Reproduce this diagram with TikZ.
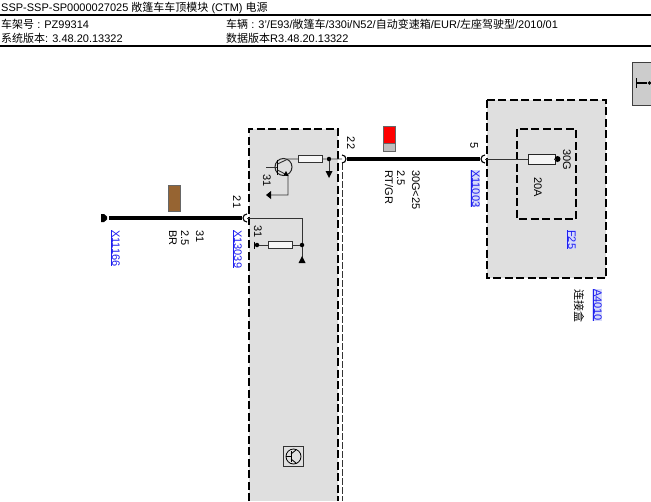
\documentclass[tikz,border=0pt]{standalone}
\usepackage{fontspec}
\setmainfont{Liberation Sans}
\newfontfamily\cjk{Noto Sans CJK SC}
\usetikzlibrary{arrows.meta}
\definecolor{boxgray}{RGB}{223,223,223}
\definecolor{linkblue}{RGB}{30,30,240}
\definecolor{linkbg}{RGB}{214,218,250}
\definecolor{wirebrown}{RGB}{150,100,50}

\begin{document}
\begin{tikzpicture}[x=1pt, y=-1pt, >=Stealth,
    every node/.style={font=\fontsize{11}{13}\selectfont, inner sep=0pt, text=black},
    header/.style={anchor=west},
    vlabel/.style={rotate=-90, anchor=west},
    vlink/.style={rotate=-90, anchor=west, text=linkblue},
    vlinkbg/.style={vlink, fill=linkbg},
    modulebox/.style={draw=black, line width=2pt, fill=boxgray, dash pattern=on 8pt off 3.5pt},
    innerbox/.style={draw=black, line width=2pt, dash pattern=on 8pt off 3.5pt},
    wire/.style={line width=3.8pt, black},
    thinwire/.style={line width=0.9pt, black!80},
    pinarc/.style={line width=1.1pt, black},
    junction/.style={circle, fill=black, minimum size=4.5pt},
    resistor/.style={draw=black!80, fill=boxgray!25, line width=0.9pt, minimum width=24pt, minimum height=7pt},
    gnd/.style={fill=black}]

  \useasboundingbox (0,0) rectangle (651,501);

  % Header
  \node[header] (title) at (1,7.5) {SSP-SSP-SP0000027025 {\cjk 敞篷车车顶模块} (CTM) {\cjk 电源}};
  \node[header] (chassis) at (1,24) {{\cjk 车架号} : PZ99314};
  \node[header] (vehicle) at (226,24) {{\cjk 车辆} : 3'/E93/{\cjk 敞篷车}/330i/N52/{\cjk 自动变速箱}/EUR/{\cjk 左座驾驶型}/2010/01};
  \node[header] (sysver) at (1,38) {{\cjk 系统版本}: 3.48.20.13322};
  \node[header] (dataver) at (226,38) {{\cjk 数据版本}R3.48.20.13322};
  \draw[line width=2.4pt] (0,14.7) -- (651,14.7);
  \draw[line width=2.4pt] (0,45.7) -- (651,45.7);

  % Control module
  \fill[boxgray] (249,129) rectangle (338,501);
  \draw[modulebox, fill=none] (249,501) -- (249,129) -- (338,129) -- (338,501);
  \draw[thinwire, dash pattern=on 7pt off 2pt] (342,163) -- (342,501);

  % Junction box
  \draw[modulebox] (487,100) rectangle (606,278);
  \draw[innerbox] (517,129) rectangle (576,219);

  % Side tab
  \draw[draw=black!75, line width=1pt, fill=black!20] (651,62) -- (632.5,62) -- (632.5,105.5) -- (651,105.5);
  \draw[line width=1pt] (636,78) -- (636,88);
  \draw[line width=2.6pt] (636,83) -- (647,83);
  \fill (649.5,83) circle (1.8);

  % Wires
  \coordinate (pinA) at (242,218);
  \coordinate (pinB) at (347,159);
  \coordinate (pinC) at (480,159);
  \coordinate (tapA) at (247,218);
  \coordinate (tapB) at (342,159);
  \coordinate (tapC) at (485,159);
  \coordinate (endA) at (109,218);
  \draw[wire] (endA) -- (pinA);
  \draw[wire] (pinB) -- (pinC);
  \draw[pinarc] (247,222) arc[start angle=90, end angle=270, radius=4];
  \draw[pinarc] (342,163) arc[start angle=90, end angle=-90, radius=4];
  \draw[pinarc] (485,163) arc[start angle=90, end angle=270, radius=4];
  \fill (101,214) -- (104,214) -- (107,216.5) -- (107,219.5) -- (104,222) -- (101,222) -- cycle;

  % Wire colours
  \node[draw=black!60, fill=wirebrown, line width=0.9pt, minimum width=12pt, minimum height=26pt] (brown) at (174,198) {};
  \node[draw=black!60, fill=red, line width=0.9pt, minimum width=12pt, minimum height=17pt] (red) at (389,134.5) {};
  \node[draw=black!60, fill=black!25, line width=0.9pt, minimum width=12pt, minimum height=8pt] (grey) at (389,147) {};

  % Fuse
  \node[draw=black!85, fill=boxgray!30, line width=1pt, minimum width=27pt, minimum height=10pt] (fuse) at (541.5,159) {};
  \node[circle, fill=black, minimum size=6pt] (fusedot) at (557.5,159) {};
  \draw[thinwire] (tapC) -- (fuse);
  \draw[thinwire] (fuse) -- (fusedot);

  % Lower circuit
  \node[resistor] (resA) at (280,245) {};
  \node[junction] (dotA) at (302,245) {};
  \node[junction] (dotB) at (257,245) {};
  \coordinate (cornerA) at (302,218);
  \coordinate (gndA) at (302,257);
  \draw[thinwire] (tapA) -- (cornerA) -- (dotA) -- (gndA);
  \draw[thinwire] (dotB) -- (resA) -- (dotA);
  \draw[line width=1.2pt] (254.5,241.5) -- (254.5,248.5);
  \fill[gnd] (302,256) -- (305.5,263) -- (298.5,263) -- cycle;

  % Transistor
  \node[circle, draw=black!85, line width=1pt, minimum size=17pt] (tr) at (283.5,167) {};
  \node[resistor] (resB) at (310.5,159) {};
  \node[junction] (dotC) at (329,159) {};
  \coordinate (base) at (266,167);
  \coordinate (col) at (288,159);
  \coordinate (emit) at (288,195);
  \coordinate (gndB) at (271,195);
  \draw[thinwire] (base) -- (277.5,167);
  \draw[line width=1.3pt] (277.5,159.5) -- (277.5,174.5);
  \draw[thinwire] (277.5,164) -- (col) -- (resB) -- (dotC) -- (tapB);
  \draw[thinwire] (277.5,170) -- (288,175.5) -- (emit) -- (gndB);
  \fill (288.5,176) -- (283.5,175.5) -- (286,171) -- cycle;
  \fill[gnd] (266,195) -- (271,191) -- (271,199) -- cycle;
  \draw[thinwire] (dotC) -- (329,172);
  \fill[gnd] (325.5,171) -- (332.5,171) -- (329,178) -- cycle;

  % Transistor symbol at the bottom
  \node[draw=black!80, fill=black!12, line width=1pt, minimum size=20pt] (icon) at (293.5,456.5) {};
  \node[circle, draw=black, line width=0.8pt, minimum size=15pt] (iconc) at (293.5,456.5) {};
  \draw[line width=0.8pt] (iconc.west) -- (291,456.5);
  \draw[line width=0.8pt] (291,451) -- (291,462);
  \draw[line width=0.8pt] (291,454) -- (296,450);
  \draw[line width=0.8pt] (291,459) -- (296,463);

  % Pin labels
  \node[rotate=-90] (n21) at (237,202) {21};
  \node[rotate=-90] (n22) at (351,143) {22};
  \node[rotate=-90] (n5) at (474,146) {5};
  \node[vlabel] (gndC) at (258,225) {31};
  \node[vlabel] (gndD) at (267,174) {31};

  % Wire labels
  \node[vlink] (x11166) at (115,230) {\underline{X11166}};
  \node[vlink] (x13039) at (237,230) {\underline{X13039}};
  \node[vlinkbg] (x11003) at (475,170) {\underline{X11003}};
  \node[vlabel] (brA) at (200,230) {31};
  \node[vlabel] (brB) at (185,230) {2.5};
  \node[vlabel] (brC) at (173,230) {BR};
  \node[vlabel] (rtA) at (416,170) {30G<25};
  \node[vlabel] (rtB) at (401,170) {2.5};
  \node[vlabel] (rtC) at (389,170) {RT/GR};

  % Fuse labels
  \node[vlabel] (f30g) at (567,149) {30G};
  \node[vlabel] (f20a) at (538,177) {20A};
  \node[vlinkbg] (f25) at (571,230) {\underline{F25}};
  \node[vlinkbg] (a4010) at (597,289) {\underline{A4010}};
  \node[vlabel] (jbox) at (579,289) {\cjk 连接盒};

\end{tikzpicture}
\end{document}
